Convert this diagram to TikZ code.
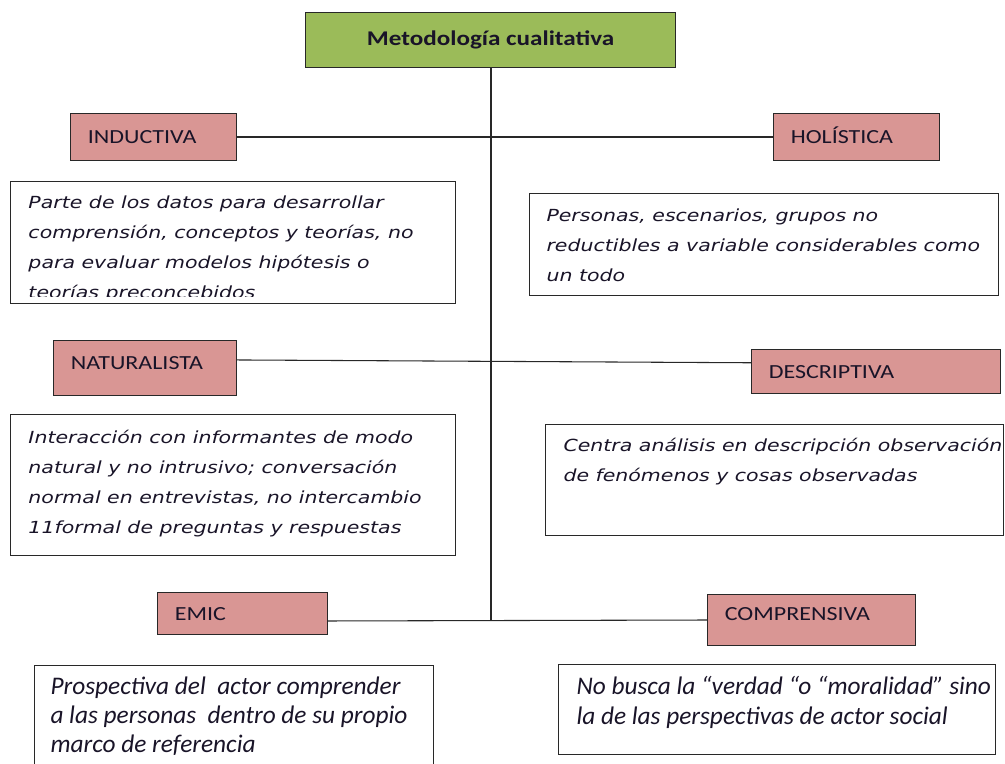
\documentclass[tikz,border=0pt]{standalone}
\usepackage{fontspec}
\setmainfont{DejaVu Sans}
\newfontfamily\calibri[FakeStretch=1.2]{Carlito}
\newfontfamily\calibriangosto{Carlito}
\newfontfamily\verdana[FakeStretch=1.23]{DejaVu Sans}
\usetikzlibrary{positioning}

\definecolor{verdeolivo}{RGB}{155,187,89}
\definecolor{rosaviejo}{RGB}{217,150,148}
\definecolor{bordeoscuro}{RGB}{40,40,40}
\definecolor{tinta}{RGB}{25,20,40}

\tikzset{every picture/.style={line width=0.75pt}}
\tikzset{
  titulo/.style={draw=bordeoscuro, fill=verdeolivo, anchor=north west, inner sep=0pt,
    text=tinta, font=\calibri\bfseries\fontsize{15.7}{17}\selectfont},
  etiqueta/.style={draw=bordeoscuro, fill=rosaviejo, anchor=north west, inner sep=0pt,
    inner xsep=13pt, align=left, text height=10pt, text depth=0pt, text=tinta,
    font=\calibri\fontsize{15}{17}\selectfont},
  caja/.style={draw=bordeoscuro, anchor=north west, inner sep=0pt},
  texto/.style={anchor=north west, inner sep=0pt, align=left, text=tinta,
    font=\verdana\itshape\fontsize{12.5}{22.5}\selectfont},
  textoangosto/.style={anchor=north west, inner sep=0pt, align=left, text=tinta,
    font=\calibriangosto\itshape\fontsize{19}{22}\selectfont},
  rama/.style={draw=bordeoscuro, line width=0.8pt},
}

\begin{document}
\begin{tikzpicture}[x=0.75pt,y=0.75pt,yscale=-1,xscale=1]
\useasboundingbox (0,0) rectangle (1005,763);

%Title box
\node [titulo, minimum width=277.5pt, minimum height=41.25pt] (metodo) at (305,12) {Metodología cualitativa};

%Label boxes
\node [etiqueta, minimum width=124.5pt, minimum height=35.25pt, text width=98.5pt] (inductiva) at (70,113) {INDUCTIVA};
\node [etiqueta, minimum width=124.5pt, minimum height=35.25pt, text width=98.5pt] (holistica) at (773,113) {HOLÍSTICA};
\node [etiqueta, minimum width=137.25pt, minimum height=41.25pt, text width=111.25pt, text depth=8.25pt] (naturalista) at (53,340) {NATURALISTA};
\node [etiqueta, minimum width=186.75pt, minimum height=33pt, text width=160.75pt] (descriptiva) at (751,349) {DESCRIPTIVA};
\node [etiqueta, minimum width=127.5pt, minimum height=31.5pt, text width=101.5pt] (emic) at (157,592) {EMIC};
\node [etiqueta, minimum width=156pt, minimum height=38.25pt, text width=130pt, text depth=9.75pt] (comprensiva) at (707,594) {COMPRENSIVA};

%Description boxes
\node [caja, minimum width=333.75pt, minimum height=91.5pt] (dinductiva) at (10,181) {};
\node [caja, minimum width=351.75pt, minimum height=76.5pt] (dholistica) at (529,193) {};
\node [caja, minimum width=333.75pt, minimum height=105.75pt] (dnaturalista) at (10,414) {};
\node [caja, minimum width=343.5pt, minimum height=83.25pt] (ddescriptiva) at (545,424) {};
\node [caja, minimum width=299.25pt, minimum height=78pt] (demic) at (34,665) {};
\node [caja, minimum width=327.75pt, minimum height=67.5pt] (dcomprensiva) at (558,664) {};

% Text Node
\begin{scope}
\clip (10,181) rectangle (455,296);
\node [texto] (tinductiva) at (28,195) {Parte de los datos para desarrollar\\comprensión, conceptos y teorías, no\\para evaluar modelos hipótesis o\\teorías preconcebidos};
\end{scope}
% Text Node
\node [texto] (tholistica) at (546,208) {Personas, escenarios, grupos no\\reductibles a variable considerables como\\un todo};
% Text Node
\node [texto] (tnaturalista) at (28,430) {Interacción con informantes de modo\\natural y no intrusivo; conversación\\normal en entrevistas, no intercambio\\11formal de preguntas y respuestas};
% Text Node
\node [texto] (tdescriptiva) at (563,438) {Centra análisis en descripción observación\\de fenómenos y cosas observadas};
% Text Node
\node [textoangosto] (temic) at (50,676) {Prospectiva del \ actor comprender\\a las personas \ dentro de su propio\\marco de referencia};
% Text Node
\node [textoangosto] (tcomprensiva) at (576,676) {No busca la “verdad “o “moralidad” sino\\la de las perspectivas de actor social};

%Connectors
\coordinate (tronco) at (491,620);
\draw [rama] (metodo.south -| tronco) -- (tronco);
\draw [rama] (inductiva.east) -- (holistica.west);
\draw [rama] (naturalista.5) -- (descriptiva.176);
\draw [rama] (emic.-5) -- (comprensiva.west);

\end{tikzpicture}
\end{document}
